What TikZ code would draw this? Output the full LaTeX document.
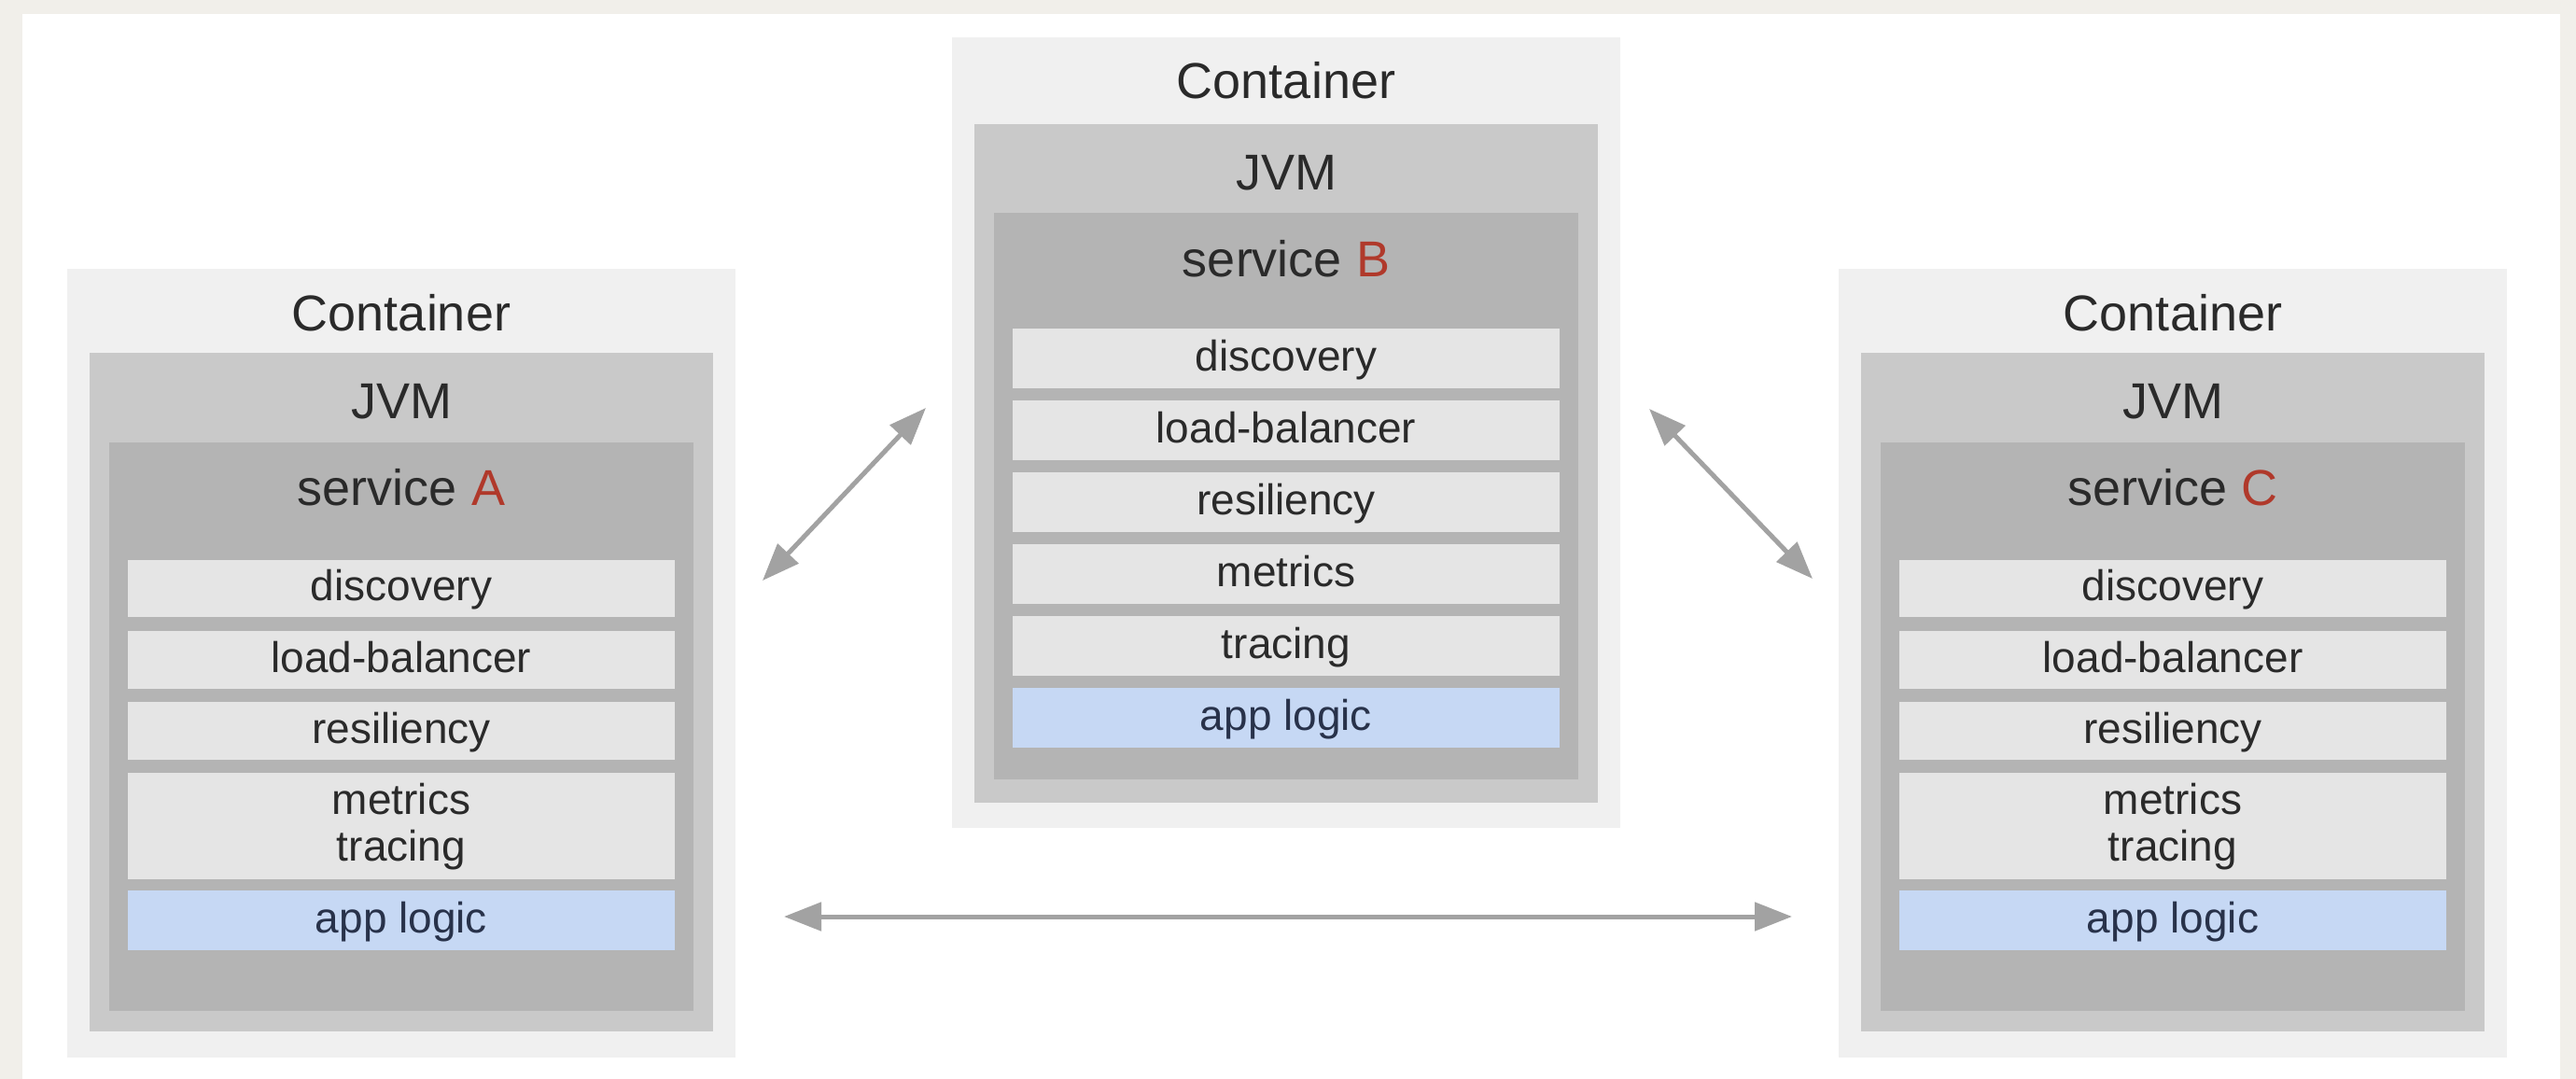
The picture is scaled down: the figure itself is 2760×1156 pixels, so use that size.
\documentclass[tikz,border=0pt]{standalone}
\usepackage{fontspec}
\setmainfont{Liberation Sans}
\usetikzlibrary{arrows.meta}

\definecolor{paper}{HTML}{F1EFEA}
\definecolor{ctr}{HTML}{F0F0F0}
\definecolor{jvm}{HTML}{C9C9C9}
\definecolor{svc}{HTML}{B4B4B4}
\definecolor{row}{HTML}{E5E5E5}
\definecolor{app}{HTML}{C6D8F4}
\definecolor{ink}{HTML}{2A2A2A}
\definecolor{appink}{HTML}{28324A}
\definecolor{letter}{HTML}{B0392B}
\definecolor{linkgray}{HTML}{A2A2A2}

\begin{document}
\begin{tikzpicture}[x=1pt, y=-1pt,
  box/.style={rectangle, inner sep=0pt, outer sep=0pt, anchor=north west},
  ctrbox/.style={box, fill=ctr},
  jvmbox/.style={box, fill=jvm},
  svcbox/.style={box, fill=svc},
  rowbox/.style={box, fill=row, minimum width=586pt},
  appbox/.style={box, fill=app, minimum width=586pt},
  title/.style={inner sep=0pt, anchor=base, text=ink, font=\fontsize{54}{60}\selectfont},
  item/.style={inner sep=0pt, anchor=base, text=ink, font=\fontsize{46}{50}\selectfont},
  link/.style={draw=linkgray, line width=5pt,
    {Triangle[length=40pt,width=30pt]}-{Triangle[length=40pt,width=30pt]}}]

\useasboundingbox (0,0) rectangle (2760,1156);
\fill[paper] (0,0) rectangle (2760,1156);
\fill[white] (24,15) rectangle (2743,1156);

% the two outer containers, each with a single metrics/tracing row
\foreach \n/\x in {A/72, C/1970} {
  \pgfmathsetmacro{\cx}{\x+358}
  \node[ctrbox, minimum width=716pt, minimum height=845pt] (ctr\n) at (\x,288) {};
  \node[title] (ctr\n lbl) at (\cx,354) {Container};
  \node[jvmbox, minimum width=668pt, minimum height=727pt] (jvm\n) at (\x+24,378) {};
  \node[title] (jvm\n lbl) at (\cx,448) {JVM};
  \node[svcbox, minimum width=626pt, minimum height=609pt] (svc\n) at (\x+45,474) {};
  \node[title] (svc\n lbl) at (\cx,541) {service \textcolor{letter}{\n}};
  \node[rowbox, minimum height=61pt] (disc\n) at (\x+65,600) {};
  \node[item] (disc\n lbl) at (\cx,643) {discovery};
  \node[rowbox, minimum height=62pt] (lb\n) at (\x+65,676) {};
  \node[item] (lb\n lbl) at (\cx,720) {load-balancer};
  \node[rowbox, minimum height=62pt] (res\n) at (\x+65,752) {};
  \node[item] (res\n lbl) at (\cx,796) {resiliency};
  \node[rowbox, minimum height=114pt] (mt\n) at (\x+65,828) {};
  \node[item, anchor=center, align=center] (mt\n lbl) at (\cx,886) {metrics\\tracing};
  \node[appbox, minimum height=64pt] (app\n) at (\x+65,954) {};
  \node[item, text=appink] (app\n lbl) at (\cx,999) {app logic};
}

% the middle container, with metrics and tracing on separate rows
\node[ctrbox, minimum width=716pt, minimum height=847pt] (ctrB) at (1020,40) {};
\node[title] (ctrBlbl) at (1378,106) {Container};
\node[jvmbox, minimum width=668pt, minimum height=727pt] (jvmB) at (1044,133) {};
\node[title] (jvmBlbl) at (1378,203) {JVM};
\node[svcbox, minimum width=626pt, minimum height=607pt] (svcB) at (1065,228) {};
\node[title] (svcBlbl) at (1378,296) {service \textcolor{letter}{B}};
\node[rowbox, minimum height=64pt] (discB) at (1085,352) {};
\node[item] (discBlbl) at (1378,397) {discovery};
\node[rowbox, minimum height=64pt] (lbB) at (1085,429) {};
\node[item] (lbBlbl) at (1378,474) {load-balancer};
\node[rowbox, minimum height=64pt] (resB) at (1085,506) {};
\node[item] (resBlbl) at (1378,551) {resiliency};
\node[rowbox, minimum height=64pt] (metB) at (1085,583) {};
\node[item] (metBlbl) at (1378,628) {metrics};
\node[rowbox, minimum height=64pt] (traB) at (1085,660) {};
\node[item] (traBlbl) at (1378,705) {tracing};
\node[appbox, minimum height=64pt] (appB) at (1085,737) {};
\node[item, text=appink] (appBlbl) at (1378,782) {app logic};

% links between the services
\coordinate (abA) at (817,622);
\coordinate (abB) at (992,437);
\coordinate (bcB) at (1767,438);
\coordinate (bcC) at (1942,620);
\coordinate (acA) at (840,982);
\coordinate (acC) at (1920,982);
\draw[link] (abA) -- (abB);
\draw[link] (bcB) -- (bcC);
\draw[link] (acA) -- (acC);
\end{tikzpicture}
\end{document}
